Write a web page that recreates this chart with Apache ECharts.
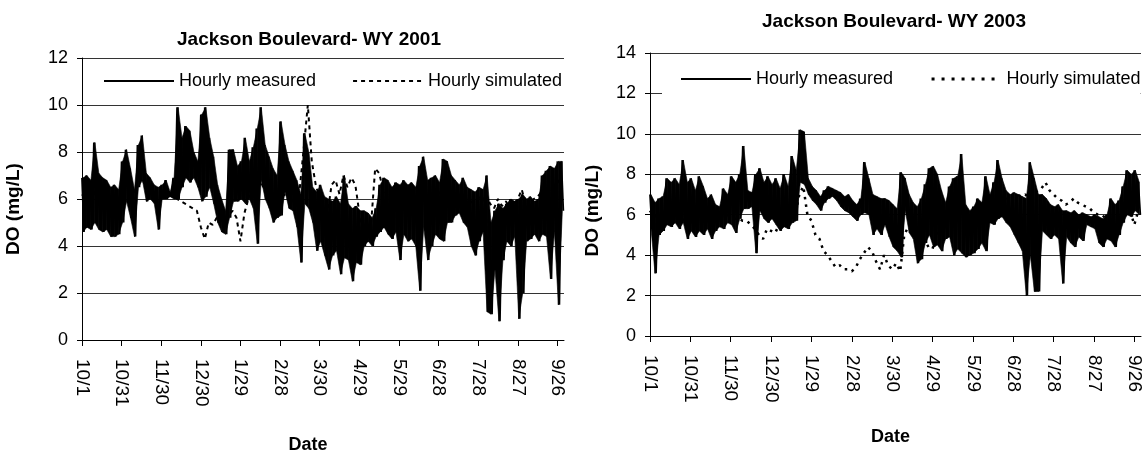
<!DOCTYPE html>
<html>
<head>
<meta charset="utf-8">
<script src="https://cdn.jsdelivr.net/npm/echarts@6/dist/echarts.min.js"></script>
<style>
html,body{margin:0;padding:0;background:#fff;}
#chart{width:1146px;height:459px;}
</style>
</head>
<body>
<div id="chart"></div>
<script>
// ---- data ----
const tickLabels = ['10/1','10/31','11/30','12/30','1/29','2/28','3/30','4/29','5/29','6/28','7/28','8/27','9/26'];
const tickDays = [0,30,60,90,120,150,180,210,240,270,300,330,360];
const titles = ['Jackson Boulevard- WY 2001', 'Jackson Boulevard- WY 2003'];
const seriesNames = ['Hourly measured', 'Hourly simulated'];
const blockDays = 3; // each entry below covers a 3-day block: high then low

// WY 2001 hourly measured (high / low of each 3-day block)
const wy2001High = [6.9,7.0,6.8,8.4,7.1,6.9,6.8,6.5,6.6,6.4,
  7.6,8.1,7.3,6.4,8.3,8.7,7.1,6.9,6.6,6.5,
  6.6,6.8,6.3,6.9,9.9,8.6,9.1,8.9,8.0,7.6,
  9.6,9.9,8.6,7.8,6.6,6.0,5.5,8.1,8.1,7.4,
  7.6,8.6,7.6,8.2,9.0,9.9,8.3,7.8,7.3,7.0,
  9.3,8.3,7.6,7.2,6.8,6.2,8.8,8.0,6.5,6.3,
  6.6,6.1,6.0,5.9,6.1,5.8,7.0,5.8,5.6,5.7,
  5.5,5.5,5.4,5.2,5.6,6.6,6.9,6.8,6.5,6.7,
  6.6,6.8,6.6,6.7,6.5,7.4,7.8,6.8,6.9,7.0,
  6.7,7.7,7.6,7.0,6.8,6.6,6.9,6.5,6.4,6.3,
  6.5,6.4,7.0,5.0,5.5,5.8,5.6,5.8,6.0,5.9,
  6.0,6.2,6.0,6.1,5.9,6.0,7.0,7.2,7.4,7.3,
  7.6,7.6];
const wy2001Low = [4.6,4.8,4.7,5.0,4.7,4.6,4.7,4.4,4.4,4.5,
  5.0,5.9,5.2,4.4,6.5,6.8,5.9,6.0,5.8,4.7,
  6.0,6.0,6.1,6.0,6.0,6.5,6.9,6.7,6.9,6.5,
  5.9,6.1,6.5,5.8,5.0,4.6,4.5,5.2,5.9,5.9,
  6.0,5.8,6.0,5.6,4.1,6.8,6.0,5.6,5.0,5.2,
  5.3,6.3,5.6,5.5,4.8,3.3,5.8,5.6,5.0,3.8,
  4.2,3.6,3.0,3.6,3.8,2.8,3.5,3.4,2.5,3.3,
  3.2,4.0,4.2,4.0,4.4,4.6,4.8,4.5,4.3,4.6,
  3.4,4.5,4.2,4.3,4.0,2.1,4.8,3.4,4.0,4.5,
  4.3,4.2,5.0,5.0,5.3,5.4,5.0,4.8,4.0,3.6,
  4.2,4.6,1.2,1.1,3.0,0.8,3.4,4.2,4.0,4.4,
  0.9,2.0,4.2,4.3,4.5,4.2,4.5,4.4,2.6,4.6,
  1.5,5.5];
// WY 2001 hourly simulated (one value per 3-day block)
const wy2001Sim = [6.2,6.0,6.1,6.3,6.0,5.9,6.0,5.8,5.9,6.0,
  6.4,6.6,6.3,6.0,6.8,7.0,6.5,6.4,6.3,6.2,
  6.3,6.5,6.4,6.3,6.0,5.9,5.8,5.7,5.6,5.5,
  4.8,4.3,5.0,4.9,5.2,5.1,5.0,5.3,5.5,5.2,
  4.2,5.4,6.0,6.3,6.5,6.8,6.4,6.2,6.0,6.1,
  6.3,6.2,6.0,5.8,6.2,6.5,8.2,10.0,7.6,6.6,
  6.0,5.6,5.4,6.6,6.8,6.2,7.0,6.5,6.9,6.6,
  5.4,4.3,4.4,5.0,7.3,7.1,6.4,6.2,6.0,5.9,
  6.0,6.1,6.2,6.0,5.9,6.1,6.3,6.2,6.0,6.1,
  6.2,6.4,6.3,6.2,6.1,6.0,6.1,5.9,5.8,6.0,
  6.1,5.9,6.2,5.8,5.6,6.0,5.7,5.9,5.6,5.8,
  6.0,6.4,5.8,5.7,6.0,6.1,6.3,6.1,6.4,6.5,
  6.8,6.6];

// WY 2003 hourly measured (high / low of each 3-day block)
const wy2003High = [7.0,6.6,6.8,6.9,7.8,7.6,7.8,7.5,8.7,7.6,
  7.8,7.2,7.9,7.4,6.8,7.0,6.5,6.4,7.3,7.0,
  7.9,7.6,8.0,9.4,7.2,7.1,8.0,8.3,7.6,7.9,
  7.5,7.8,7.3,8.0,7.4,8.9,8.2,10.2,10.1,7.8,
  7.4,7.2,6.9,7.2,7.4,7.3,7.2,7.1,6.9,7.0,
  6.7,6.5,6.8,8.6,7.8,7.0,6.9,6.8,6.8,6.7,
  6.5,6.3,8.1,7.8,7.0,6.6,6.4,6.8,7.5,8.3,
  8.4,8.0,7.2,6.6,7.4,7.8,7.9,9.0,6.5,6.2,
  6.4,6.8,6.6,7.9,7.0,7.6,8.7,7.8,7.2,7.0,
  7.1,7.0,6.9,6.8,8.6,7.8,7.0,7.0,6.8,6.5,
  6.4,6.5,6.2,6.2,6.1,6.2,6.0,6.1,6.0,5.9,
  6.0,5.9,5.8,6.0,6.8,6.5,6.7,7.4,8.2,8.0,
  8.2,7.6];
const wy2003Low = [5.3,3.1,5.0,5.2,5.5,5.4,5.6,5.3,5.6,4.8,
  5.2,4.9,5.2,5.0,5.3,4.8,5.2,5.4,5.3,5.6,
  5.5,5.1,5.8,6.3,6.3,6.4,4.1,6.2,5.8,5.6,
  5.8,5.5,5.2,5.4,5.3,5.6,5.7,7.6,7.5,7.0,
  6.7,6.5,6.2,6.6,6.8,6.9,6.7,6.4,6.2,6.1,
  5.9,5.7,6.0,6.1,6.0,5.0,5.3,5.0,5.5,4.9,
  4.4,4.2,3.9,6.2,5.1,4.8,3.6,3.8,4.6,5.0,
  4.4,4.5,4.2,4.8,4.9,4.0,4.3,4.1,3.9,4.0,
  4.1,4.3,4.6,4.2,5.6,5.5,5.8,5.9,5.6,5.4,
  5.0,4.6,4.2,2.0,4.0,2.2,2.2,5.2,5.0,4.8,
  5.0,4.8,2.6,4.9,4.6,4.4,4.9,4.7,5.5,5.4,
  5.3,4.6,4.4,4.8,4.7,4.4,5.0,5.6,6.0,5.9,
  6.2,6.0];
// WY 2003 hourly simulated (one value per 3-day block)
const wy2003Sim = [6.2,5.9,6.0,6.1,5.8,5.9,5.7,5.6,5.8,5.7,
  5.6,5.8,5.7,5.9,5.8,5.6,5.7,5.8,5.9,6.0,
  5.9,5.8,5.8,5.7,5.7,5.5,5.3,5.0,4.8,5.3,
  5.2,5.1,5.5,5.7,5.8,5.8,6.0,7.0,7.4,6.0,
  5.7,5.0,4.8,4.2,4.0,3.7,3.4,3.5,3.3,3.3,
  3.2,3.4,3.8,4.1,4.4,4.2,3.7,3.3,4.0,3.5,
  3.3,3.6,3.2,5.0,5.4,5.2,4.6,4.2,4.8,4.4,
  4.3,5.0,5.5,5.6,5.8,6.0,6.2,6.1,6.0,5.9,
  6.0,6.2,6.4,6.5,6.6,6.8,6.9,7.0,6.8,6.9,
  6.9,7.0,6.9,7.0,6.8,7.0,7.2,7.3,7.6,7.2,
  7.0,6.8,6.7,6.5,6.6,6.8,6.6,6.5,6.4,6.3,
  6.1,6.0,6.0,5.8,5.5,5.6,5.7,5.9,6.0,6.2,
  5.5,6.2];

// ---- build series data from the arrays ----
function zigzag(high, low) {
  const out = [];
  for (let i = 0; i < high.length; i++) {
    out.push([i * blockDays, high[i]]);
    out.push([i * blockDays + blockDays / 2, low[i]]);
  }
  return out;
}
function steps(vals) {
  return vals.map((v, i) => [i * blockDays, v]);
}

const FONT = "'Liberation Sans', Arial, sans-serif";
const black = '#000';

function xAxisFor(gridIndex, nameGap, namePad) {
  return {
    type: 'value', gridIndex: gridIndex, min: 0, max: 365,
    name: 'Date', nameLocation: 'middle', nameGap: nameGap, nameMoveOverlap: false,
    nameTextStyle: { fontFamily: FONT, fontSize: 18, fontWeight: 'bold', color: black, padding: namePad },
    axisLine: { show: true, onZero: false, lineStyle: { color: black, width: 1 } },
    axisTick: { show: true, customValues: tickDays, length: 6, lineStyle: { color: black } },
    axisLabel: {
      customValues: tickDays, rotate: -90, margin: 19,
      fontFamily: FONT, fontSize: 19, color: black,
      formatter: function (v) { const k = tickDays.indexOf(v); return k >= 0 ? tickLabels[k] : ''; }
    },
    splitLine: { show: false }
  };
}
function yAxisFor(gridIndex, max, nameGap, namePad) {
  return {
    type: 'value', gridIndex: gridIndex, min: 0, max: max, interval: 2,
    name: 'DO (mg/L)', nameLocation: 'middle', nameGap: nameGap, nameMoveOverlap: false,
    nameTextStyle: { fontFamily: FONT, fontSize: 19, fontWeight: 'bold', color: black, padding: namePad },
    axisLine: { show: true, lineStyle: { color: black, width: 1 } },
    axisTick: { show: true, length: 5, lineStyle: { color: black } },
    axisLabel: { margin: 14, fontFamily: FONT, fontSize: 18, color: black },
    splitLine: { show: true, lineStyle: { color: '#333', width: 1 } }
  };
}

const hiddenSymbol = { opacity: 0 };

// measured: a filled high/low range (custom polygons via the axis scales) + the high/low trace
function measuredSeries(gi, high, low) {
  const off = blockDays / 4;
  return [
    { name: 'measured-range-' + gi, type: 'custom', xAxisIndex: gi, yAxisIndex: gi, silent: true, clip: true,
      data: high.map((v, i) => [i * blockDays + off, v, low[i]]),
      encode: { x: 0, y: [1, 2] },
      renderItem: function (params, api) {
        const i = params.dataIndex;
        if (i >= high.length - 1) return null;
        const x0 = i * blockDays + off, x1 = (i + 1) * blockDays + off;
        const pts = [api.coord([x0, high[i]]), api.coord([x1, high[i + 1]]),
                     api.coord([x1, low[i + 1]]), api.coord([x0, low[i]])];
        return { type: 'polygon', shape: { points: pts },
                 style: { fill: black, stroke: black, lineWidth: 0.6 } };
      } },
    { name: seriesNames[0], type: 'line', xAxisIndex: gi, yAxisIndex: gi, data: zigzag(high, low),
      symbol: 'none', silent: true, lineStyle: { color: black, width: 1.8 }, itemStyle: { color: black } }
  ];
}

const option = {
  animation: false,
  backgroundColor: '#fff',
  title: [
    { text: titles[0], left: 304, top: 25, textAlign: 'center',
      textStyle: { fontFamily: FONT, fontSize: 19, fontWeight: 'bold', color: black } },
    { text: titles[1], left: 889, top: 7, textAlign: 'center',
      textStyle: { fontFamily: FONT, fontSize: 19, fontWeight: 'bold', color: black } }
  ],
  legend: [
    { left: 103, top: 71, padding: 0, itemWidth: 70, itemHeight: 20, itemGap: 36,
      textStyle: { fontFamily: FONT, fontSize: 18, color: black, lineHeight: 20 },
      data: [
        { name: seriesNames[0], itemStyle: hiddenSymbol, lineStyle: { type: 'solid', width: 2, color: black } },
        { name: seriesNames[1], itemStyle: hiddenSymbol, lineStyle: { type: [4, 4], width: 2, color: black } }
      ], selectedMode: false },
    { left: 662, top: 61, width: 470, padding: [8, 0, 8, 18], itemWidth: 70, itemHeight: 20, itemGap: 37,
      backgroundColor: '#fff',
      textStyle: { fontFamily: FONT, fontSize: 18, color: black, lineHeight: 20 },
      data: [
        { name: seriesNames[0], itemStyle: hiddenSymbol, lineStyle: { type: 'solid', width: 2, color: black } },
        { name: seriesNames[1], itemStyle: hiddenSymbol, lineStyle: { type: [3, 7], width: 3, color: black } }
      ], selectedMode: false }
  ],
  grid: [
    { left: 82, top: 58, width: 482, height: 288 },
    { left: 650, top: 53, width: 491, height: 283 }
  ],
  xAxis: [ xAxisFor(0, 96, [0, 30, 0, 0]), xAxisFor(1, 92, [0, 10, 0, 0]) ],
  yAxis: [ yAxisFor(0, 12, 59, [0, 20, 0, 0]), yAxisFor(1, 14, 48, [0, 32, 0, 0]) ],
  series: [
    { name: seriesNames[1], type: 'line', xAxisIndex: 0, yAxisIndex: 0, data: steps(wy2001Sim),
      symbol: 'none', silent: true, lineStyle: { color: black, width: 2, type: [4, 4] }, itemStyle: { color: black } }
  ].concat(measuredSeries(0, wy2001High, wy2001Low)).concat([
    { name: seriesNames[1], type: 'line', xAxisIndex: 1, yAxisIndex: 1, data: steps(wy2003Sim),
      symbol: 'none', silent: true, lineStyle: { color: black, width: 2.5, type: [2.5, 5] }, itemStyle: { color: black } }
  ]).concat(measuredSeries(1, wy2003High, wy2003Low))
};

const chart = echarts.init(document.getElementById('chart'), null, { renderer: 'canvas' });
chart.setOption(option);
</script>
</body>
</html>
